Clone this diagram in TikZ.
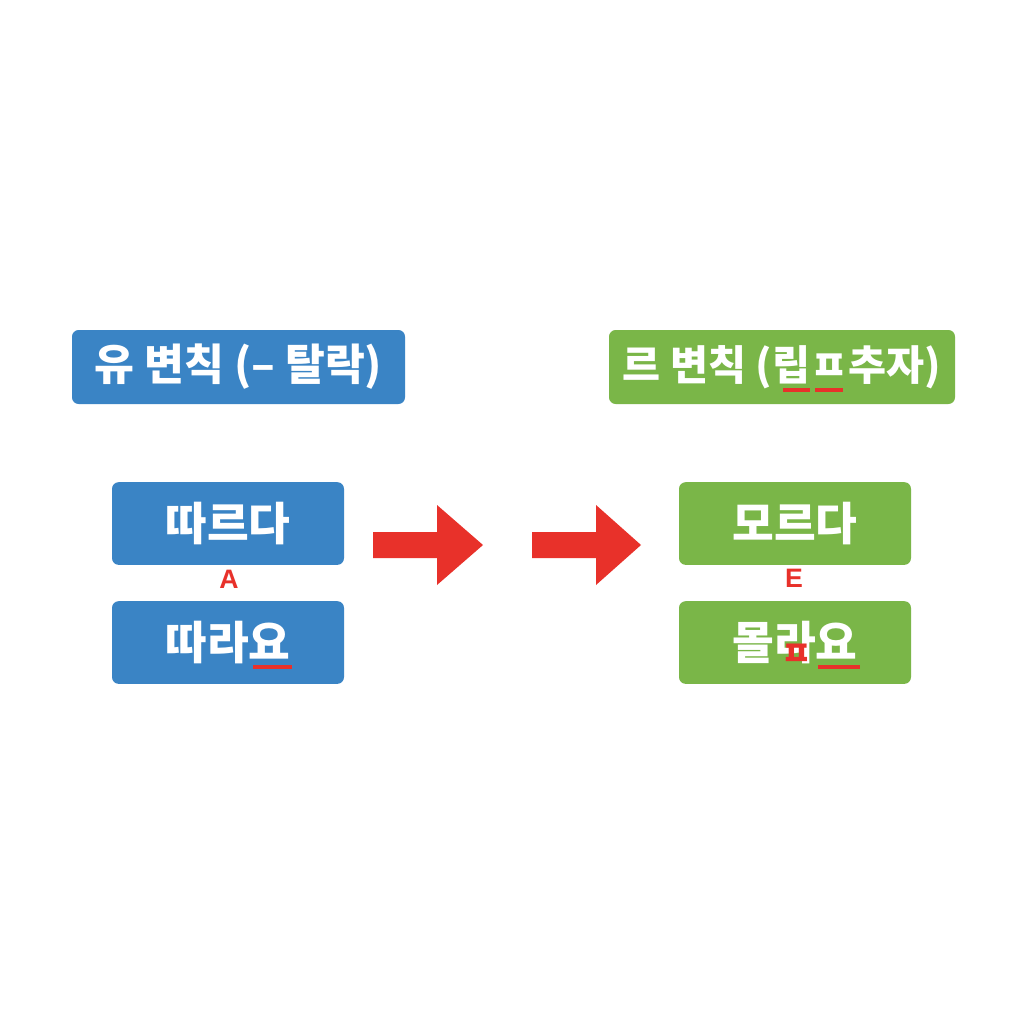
\documentclass[tikz,border=0pt]{standalone}
\usepackage{fontspec}
\newfontfamily\kr{Noto Sans CJK KR}
\newfontfamily\latb{Liberation Sans Bold}
\definecolor{bbox}{HTML}{3A84C5}
\definecolor{gbox}{HTML}{7AB648}
\definecolor{ared}{HTML}{E8312A}
\begin{document}
\begin{tikzpicture}[x=0.75pt,y=-0.75pt,
  title/.style={rounded corners=5pt, minimum width=#1*0.75pt, minimum height=55.5pt, inner sep=0pt, text=white, font=\kr\bfseries\fontsize{32.5}{34}\selectfont},
  word/.style={rounded corners=5pt, minimum width=174pt, minimum height=62pt, inner sep=0pt, text=white, font=\kr\bfseries\fontsize{34}{36}\selectfont},
  redmark/.style={text=ared, font=\latb\fontsize{20}{22}\selectfont, inner sep=0pt},
  uline/.style={draw=ared, line width=2.4pt},
  bigarrow/.style={fill=ared}]
\useasboundingbox (0,0) rectangle (1024,1024);
\fill[white] (0,0) rectangle (1024,1024);
% titles
\node[title=333, fill=bbox] (t1) at (238.5,367) {유 변칙 (– 탈락)};
\node[title=346, fill=gbox, font=\kr\bfseries\fontsize{31}{33}\selectfont] (t2) at (782,367) {르 변칙 (립ㅍ추자)};
% word boxes
\node[word, fill=bbox] (w1) at (228,523.5) {따르다};
\node[word, fill=bbox] (w2) at (228,642.5) {따라요};
\node[word, fill=gbox] (w3) at (795,523.5) {모르다};
\node[word, fill=gbox] (w4) at (795,642.5) {몰라요};
% red marks
\node[redmark] (mA) at (229,579) {A};
\node[redmark] (mE) at (794,578) {E};
\node[text=ared, font=\kr\bfseries\fontsize{25}{27}\selectfont, inner sep=0pt] (mP) at (797,655) {ㅍ};
% underlines
\draw[uline] (253,667) -- (292,667);
\draw[uline] (818,667) -- (860,667);
\draw[uline] (783,390) -- (810,390);
\draw[uline] (815,390) -- (843,390);
% arrows
\fill[bigarrow] (373,532) -- (437,532) -- (437,505) -- (483,545) -- (437,585) -- (437,558) -- (373,558) -- cycle;
\fill[bigarrow] (532,532) -- (596,532) -- (596,505) -- (641,545) -- (596,585) -- (596,558) -- (532,558) -- cycle;
\end{tikzpicture}
\end{document}
